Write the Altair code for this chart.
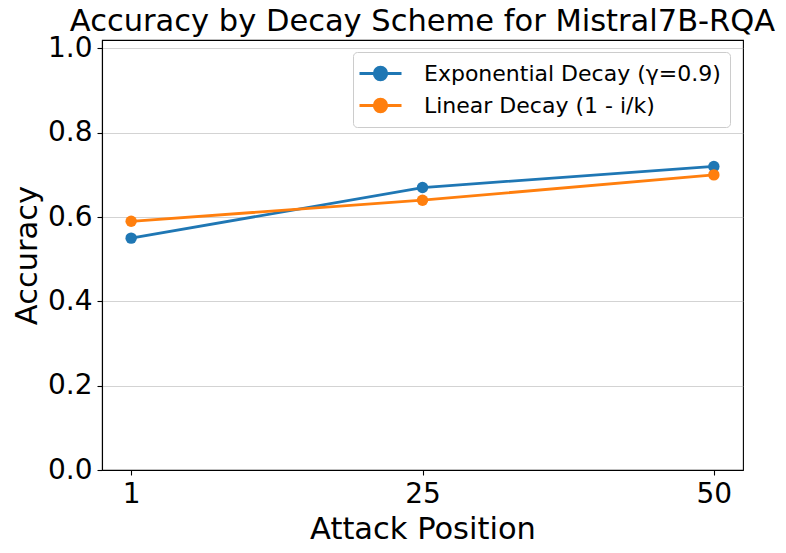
import altair as alt
import pandas as pd

positions = ["1", "25", "50"]
exp_acc = [0.55, 0.67, 0.72]
lin_acc = [0.59, 0.64, 0.70]
series_names = ["Exponential Decay (γ=0.9)", "Linear Decay (1 - i/k)"]
colors = ["#1f77b4", "#ff7f0e"]
y_ticks = [0.0, 0.2, 0.4, 0.6, 0.8, 1.0]

rows = []
for name, vals in zip(series_names, [exp_acc, lin_acc]):
    for p, v in zip(positions, vals):
        rows.append({"Attack Position": p, "Accuracy": v, "Scheme": name})
df = pd.DataFrame(rows)

FONT = "DejaVu Sans"
legend_path = ("M-1.91,0L1.91,0M-0.57,0A0.57,0.57,0,1,1,0.57,0"
               "A0.57,0.57,0,1,1,-0.57,0Z")

base = alt.Chart(df).encode(
    x=alt.X("Attack Position:N", sort=positions,
            scale=alt.Scale(type="point", padding=0.1),
            axis=alt.Axis(title="Attack Position", labelAngle=0)),
    y=alt.Y("Accuracy:Q", scale=alt.Scale(domain=[0, 1.02], nice=False, zero=False),
            axis=alt.Axis(title="Accuracy", values=y_ticks, format=".1f")),
    color=alt.Color("Scheme:N", sort=series_names,
                    scale=alt.Scale(domain=series_names, range=colors),
                    legend=alt.Legend(title=None, orient="none", legendX=251, legendY=12,
                                      symbolType=legend_path, symbolSize=484,
                                      symbolStrokeWidth=2.8, labelOffset=31,
                                      symbolOffset=6, labelLimit=0,
                                      labelFontSize=22, labelFont=FONT, labelColor="black",
                                      rowPadding=7, padding=9,
                                      fillColor="rgba(255,255,255,0.8)",
                                      strokeColor="#cccccc", cornerRadius=4)),
)

lines = base.mark_line(strokeWidth=2.8)
points = base.mark_point(filled=True, size=130, opacity=1)

chart = alt.layer(lines, points).properties(
    width=641, height=430,
    title=alt.TitleParams("Accuracy by Decay Scheme for Mistral7B-RQA",
                          font=FONT, fontSize=30.5, fontWeight="normal",
                          color="black", anchor="middle", offset=2, dy=5),
    autosize=alt.AutoSizeParams(type="none"),
    padding={"left": 94, "top": 32, "right": 35, "bottom": 75},
).configure_view(stroke="black", strokeWidth=1.1).configure_axis(
    labelFont=FONT, labelFontSize=28, labelColor="black",
    titleFont=FONT, titleFontSize=30.5, titleFontWeight="normal", titleColor="black",
    domainColor="black", domainWidth=1.1, tickColor="black", tickSize=5, tickWidth=1.1,
    gridColor="#b0b0b0", gridOpacity=0.7, gridWidth=0.8,
    labelPadding=5,
).configure_axisY(titlePadding=5).configure_axisX(titlePadding=6)

chart.save("out.html", embed_options={"renderer": "svg", "actions": False})
